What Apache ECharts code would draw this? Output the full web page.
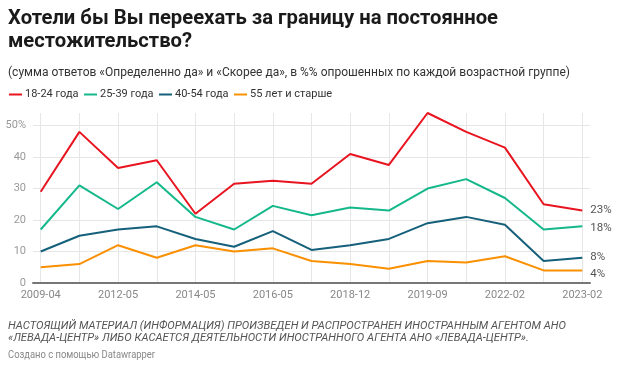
<!DOCTYPE html>
<html>
<head>
<meta charset="utf-8">
<script src="https://cdn.jsdelivr.net/npm/echarts/dist/echarts.min.js"></script>
<style>
  html, body { margin: 0; padding: 0; background: #fff; }
  #chart { width: 627px; height: 369px; }
</style>
</head>
<body>
<div id="chart"></div>
<script>
// ---- data ----
const categories = ['2009-04','2011-05','2012-05','2013-05','2014-05','2015-05','2016-05','2017-05','2018-12','2019-05','2019-09','2021-05','2022-02','2022-09','2023-02'];
const seriesNames = ['18-24 года', '25-39 года', '40-54 года', '55 лет и старше'];
const age18_24 = [29, 48, 36.5, 39, 22, 31.5, 32.5, 31.5, 41, 37.5, 54, 48, 43, 25, 23];
const age25_39 = [17, 31, 23.5, 32, 21, 17, 24.5, 21.5, 24, 23, 30, 33, 27, 17, 18];
const age40_54 = [10, 15, 17, 18, 14, 11.5, 16.5, 10.5, 12, 14, 19, 21, 18.5, 7, 8];
const age55plus = [5, 6, 12, 8, 12, 10, 11, 7, 6, 4.5, 7, 6.5, 8.5, 4, 4];
const yTickLabels = ['0', '10', '20', '30', '40', '50%'];
const titleLines = ['Хотели бы Вы переехать за границу на постоянное', 'местожительство?'];
const subtitleText = '(сумма ответов «Определенно да» и «Скорее да», в %% опрошенных по каждой возрастной группе)';
const footerLines = ['НАСТОЯЩИЙ МАТЕРИАЛ (ИНФОРМАЦИЯ) ПРОИЗВЕДЕН И РАСПРОСТРАНЕН ИНОСТРАННЫМ АГЕНТОМ АНО', '«ЛЕВАДА-ЦЕНТР» ЛИБО КАСАЕТСЯ ДЕЯТЕЛЬНОСТИ ИНОСТРАННОГО АГЕНТА АНО «ЛЕВАДА-ЦЕНТР».'];
const creditText = 'Создано с помощью Datawrapper';

// ---- styling ----
const colors = ['#e8141f', '#14b88a', '#15607a', '#fa9000'];
const seriesData = [age18_24, age25_39, age40_54, age55plus];
const endLabelDy = [0, 2, -1, 3.5];
const legendLeft = [9, 84, 159, 234];

const ctx = document.createElement('canvas').getContext('2d');
function fitScale(text, font, target) {
  ctx.font = font;
  const w = ctx.measureText(text).width;
  return w > 0 ? target / w : 1;
}

const titleFont = 'bold 20px Roboto';
const subFont = '13px Roboto';
const footFont = 'italic 11px Roboto';
const creditFont = '11px Roboto';
const sTitle = fitScale(titleLines[0], titleFont, 490);
const sSub = fitScale(subtitleText, subFont, 562);
const sFoot = fitScale(footerLines[0], footFont, 558);
const sCredit = fitScale(creditText, creditFont, 147);

function txt(x, y, text, font, fill, s) {
  return { type: 'text', x: x, y: y, scaleX: s, silent: true,
    style: { x: 0, y: 0, text: text, font: font, fill: fill, verticalAlign: 'middle' } };
}

const chart = echarts.init(document.getElementById('chart'), null, { renderer: 'canvas' });

const gridLineColor = '#e6e6e6';
const option = {
  animation: false,
  textStyle: { fontFamily: 'Roboto' },
  graphic: [
    txt(8, 19, titleLines[0], titleFont, '#1a1a1a', sTitle),
    txt(8, 42, titleLines[1], titleFont, '#1a1a1a', sTitle),
    txt(8, 72.5, subtitleText, subFont, '#333', sSub),
    txt(8, 326, footerLines[0], footFont, '#555', sFoot),
    txt(8, 338, footerLines[1], footFont, '#555', sFoot),
    txt(8, 355, creditText, creditFont, '#888', sCredit)
  ],
  legend: seriesNames.map((n, i) => ({
    data: [n], left: legendLeft[i], top: 89, icon: 'rect', itemWidth: 13, itemHeight: 2,
    selectedMode: false, padding: 0,
    textStyle: { fontSize: 11, color: '#333', padding: [0, 0, 0, -2], fontFamily: 'Roboto' }
  })),
  grid: [
    { left: 33, right: 37, top: 113, bottom: 86 },
    { left: 40.7, right: 44.7, top: 113, bottom: 86 }
  ],
  xAxis: [
    { type: 'value', gridIndex: 0, min: 0, max: 1,
      axisLine: { show: true, onZero: false, lineStyle: { color: '#777', width: 2 } },
      axisTick: { show: false }, axisLabel: { show: false }, splitLine: { show: false } },
    { type: 'category', gridIndex: 1, data: categories, boundaryGap: false,
      axisLine: { show: false }, axisTick: { show: false },
      axisLabel: { interval: 1, color: '#888', fontSize: 11, margin: 7, fontFamily: 'Roboto' },
      splitLine: { show: true, interval: 0, lineStyle: { color: gridLineColor, width: 1 } } }
  ],
  yAxis: [
    { type: 'value', gridIndex: 0, min: 0, max: 54, interval: 10,
      axisLine: { show: false }, axisTick: { show: false },
      axisLabel: { color: '#999', fontSize: 11, margin: 7, fontFamily: 'Roboto',
        formatter: v => { const i = v / 10; return (Number.isInteger(i) && yTickLabels[i] !== undefined) ? yTickLabels[i] : ''; } },
      splitLine: { show: true, lineStyle: { color: [gridLineColor, gridLineColor, gridLineColor, gridLineColor, gridLineColor, gridLineColor, 'rgba(0,0,0,0)'], width: 1 } } },
    { type: 'value', gridIndex: 1, min: 0, max: 54, show: false }
  ],
  series: seriesNames.map((n, i) => ({
    type: 'line', name: n, data: seriesData[i], xAxisIndex: 1, yAxisIndex: 1,
    symbol: 'none', clip: false, z: 10 - i,
    lineStyle: { color: colors[i], width: 2 }, itemStyle: { color: colors[i] },
    endLabel: { show: true, distance: 8, offset: [0, endLabelDy[i]], color: '#555', fontSize: 11.5, fontFamily: 'Roboto',
      formatter: p => Math.round(p.value) + '%' }
  }))
};
chart.setOption(option);
</script>
</body>
</html>
